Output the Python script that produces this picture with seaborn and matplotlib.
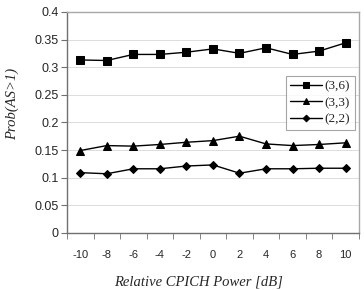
import matplotlib
matplotlib.use("Agg")
import matplotlib.pyplot as plt
import seaborn as sns
import pandas as pd
import numpy as np

x_labels = ["-10", "-8", "-6", "-4", "-2", "0", "2", "4", "6", "8", "10"]
s36 = [0.313, 0.312, 0.323, 0.323, 0.327, 0.333, 0.325, 0.335, 0.323, 0.329, 0.344]
s33 = [0.149, 0.158, 0.157, 0.160, 0.164, 0.167, 0.175, 0.161, 0.158, 0.160, 0.163]
s22 = [0.109, 0.107, 0.116, 0.116, 0.121, 0.123, 0.108, 0.116, 0.116, 0.117, 0.117]
series_names = ["(3,6)", "(3,3)", "(2,2)"]
markers = ["s", "^", "D"]
msizes = [6, 6, 4.5]

sns.set_style("white")
plt.rcParams['font.family'] = ['Liberation Sans', 'DejaVu Sans']

fig = plt.figure(figsize=(3.64, 2.90), dpi=100)
ax = fig.add_axes([0.184, 0.197, 0.802, 0.762])

pos = np.arange(len(x_labels))
for name, vals, m, ms in zip(series_names, [s36, s33, s22], markers, msizes):
    df = pd.DataFrame({"x": pos, "y": vals})
    sns.lineplot(data=df, x="x", y="y", ax=ax, color="black", linewidth=1.0,
                 marker=m, markersize=ms, markeredgecolor="black",
                 markerfacecolor="black", label=name)

ax.set_xlim(-0.5, len(x_labels) - 0.5)
ax.set_ylim(0, 0.4)
ax.set_yticks(np.arange(0, 0.401, 0.05))
ax.set_yticklabels(["0", "0.05", "0.1", "0.15", "0.2", "0.25", "0.3", "0.35", "0.4"])
ax.set_xticks(pos)
ax.set_xticklabels(x_labels)
ax.set_xticks(np.arange(-0.5, len(x_labels), 1.0), minor=True)
ax.tick_params(axis="x", which="major", length=0, labelsize=8, pad=12)
ax.tick_params(axis="x", which="minor", length=4, direction="out", color="#707070", bottom=True)
ax.tick_params(axis="y", which="major", length=4, direction="out", color="#707070", labelsize=9, left=True, pad=2)

ax.grid(axis="y", color="#dcdcdc", linewidth=0.7)
ax.set_axisbelow(True)
for side in ["left", "bottom"]:
    ax.spines[side].set_color("#707070")
    ax.spines[side].set_linewidth(1.0)
for side in ["top", "right"]:
    ax.spines[side].set_color("#a8a8a8")
    ax.spines[side].set_linewidth(1.0)

serif = ["Liberation Serif", "DejaVu Serif"]
ax.set_xlabel("Relative CPICH Power [dB]", fontsize=10.5, style="italic", family=serif)
ax.xaxis.set_label_coords((199 - 67) / 292, -(282 - 233) / 221)
ax.xaxis.label.set_va("center")
ax.set_ylabel("Prob(AS>1)", fontsize=10.5, style="italic", family=serif)
ax.yaxis.set_label_coords(-(67 - 12) / 292, (233 - 104) / 221)
ax.yaxis.label.set_va("center")

leg = ax.legend(loc="upper right", bbox_to_anchor=((355 - 67) / 292, (233 - 76) / 221),
                prop={"family": serif, "size": 9.5},
                frameon=True, fancybox=False, edgecolor="#909090",
                handlelength=2.4, handletextpad=0.2, borderpad=0.35,
                labelspacing=0.3, borderaxespad=0.0, markerscale=0.75)
leg.get_frame().set_linewidth(0.8)

fig.savefig("out.png", dpi=100)
